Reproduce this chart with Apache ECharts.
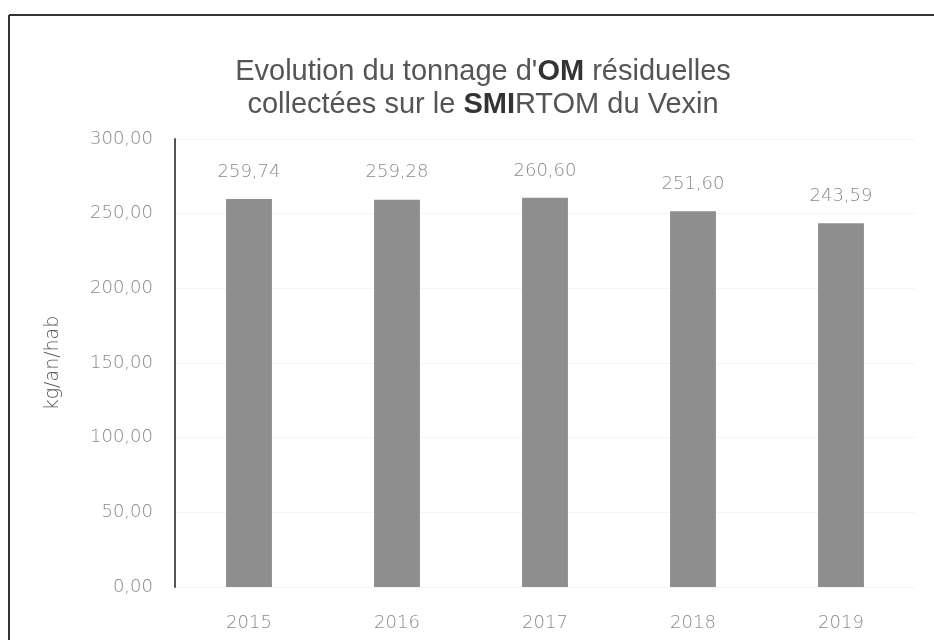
<!DOCTYPE html>
<html>
<head>
<meta charset="utf-8">
<script src="https://cdn.jsdelivr.net/npm/echarts@6/dist/echarts.min.js"></script>
<style>
  html, body { margin: 0; padding: 0; background: #fff; }
  #main { width: 934px; height: 640px; }
</style>
</head>
<body>
<div id="main"></div>
<script>
var years = ['2015', '2016', '2017', '2018', '2019'];
var tonnage = [259.74, 259.28, 260.60, 251.60, 243.59];
var yTicks = [0, 50, 100, 150, 200, 250, 300];

// format francais : virgule decimale
function frNum(v) {
	return Number(v).toFixed(2).replace('.', ',');
}

var lightFont = 'DejaVu Sans';

var myChart = echarts.init(document.getElementById('main'));
var option = {
	backgroundColor: '#fff',
	animation: false,
	title: {
		text: "{n|Evolution du tonnage d'}{b|OM}{n| résiduelles}\n{n|collectées sur le }{b|SMI}{n|RTOM du Vexin}",
		left: 478,
		top: 50,
		textAlign: 'center',
		textStyle: {
			fontWeight: 'normal',
			rich: {
				n: { fontFamily: 'Liberation Sans', fontSize: 29, fontWeight: 'normal', color: '#555', lineHeight: 33 },
				b: { fontFamily: 'Liberation Sans', fontSize: 29, fontWeight: 'bold', color: '#333', lineHeight: 33 }
			}
		}
	},
	grid: { left: 175, right: 19, top: 139, bottom: 53 },
	xAxis: {
		type: 'category',
		data: years,
		axisLine: { show: false },
		axisTick: { show: false },
		axisLabel: { fontFamily: lightFont, fontWeight: 200, fontSize: 18, color: '#8a8a8a', margin: 27 }
	},
	yAxis: {
		type: 'value',
		min: yTicks[0],
		max: yTicks[yTicks.length - 1],
		interval: 50,
		name: 'kg/an/hab',
		nameLocation: 'middle',
		nameGap: 112,
		nameTextStyle: { fontFamily: lightFont, fontWeight: 200, fontSize: 19, color: '#555' },
		axisLine: { show: true, lineStyle: { color: '#555', width: 2 } },
		axisTick: { show: false },
		axisLabel: { fontFamily: lightFont, fontWeight: 200, fontSize: 18, color: '#8a8a8a', margin: 22, formatter: frNum },
		splitLine: { show: true, lineStyle: { color: '#f4f4f4' } }
	},
	series: [{
		type: 'bar',
		data: tonnage,
		barWidth: '31%',
		itemStyle: { color: '#8e8e8e' },
		label: {
			show: true,
			position: 'top',
			distance: 18,
			fontFamily: lightFont,
			fontWeight: 200,
			fontSize: 18,
			color: '#8a8a8a',
			formatter: function (p) { return frNum(p.value); }
		}
	}],
	graphic: [
		{ type: 'line', shape: { x1: 9, y1: 15, x2: 934, y2: 15 }, style: { stroke: '#333', lineWidth: 2 } },
		{ type: 'line', shape: { x1: 9, y1: 15, x2: 9, y2: 640 }, style: { stroke: '#333', lineWidth: 2 } }
	]
};
myChart.setOption(option);
</script>
</body>
</html>
